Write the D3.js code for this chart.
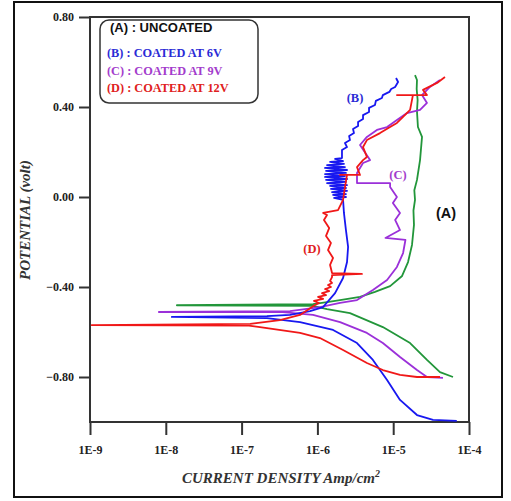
<!DOCTYPE html>
<html>
<head>
<meta charset="utf-8">
<script src="https://cdn.jsdelivr.net/npm/d3@7"></script>
<style>
  html, body { margin: 0; padding: 0; background: #fff; }
</style>
</head>
<body>
<div id="chart"></div>
<script>
// [current density (A/cm2), potential (V)]
const uncoated = [
  [6.15e-5, -0.800], [4.14e-5, -0.778], [2.79e-5, -0.724], [1.67e-5, -0.649],
  [7.3e-6, -0.578], [2.69e-6, -0.516], [1.34e-6, -0.498], [8.75e-7, -0.484],
  [1.4e-8, -0.481], [8.75e-7, -0.476], [1.34e-6, -0.467], [1.99e-6, -0.458],
  [3.65e-6, -0.444], [5.75e-6, -0.422], [9.1e-6, -0.396], [1.31e-5, -0.351],
  [1.57e-5, -0.289], [1.77e-5, -0.213], [1.88e-5, -0.124], [1.85e-5, -0.060],
  [1.94e-5, -0.013], [1.90e-5, 0.030], [2.06e-5, 0.076], [2.26e-5, 0.164],
  [2.40e-5, 0.267], [2.12e-5, 0.311], [2.06e-5, 0.380], [2.10e-5, 0.431],
  [2.04e-5, 0.480], [2.06e-5, 0.520], [1.94e-5, 0.542]
];
const coated6V = [
  [6.9e-5, -0.995], [3.35e-5, -0.991], [2.06e-5, -0.969], [1.23e-5, -0.902],
  [8.3e-6, -0.813], [5.4e-6, -0.724], [3.33e-6, -0.649], [1.61e-6, -0.591],
  [5.9e-7, -0.556], [2.16e-7, -0.538], [1.2e-8, -0.533], [2.16e-7, -0.529],
  [4.35e-7, -0.524], [8.0e-7, -0.507], [1.19e-6, -0.489], [1.71e-6, -0.427],
  [2.18e-6, -0.360], [2.46e-6, -0.289], [2.54e-6, -0.222], [2.38e-6, -0.147],
  [2.24e-6, -0.071], [2.18e-6, -0.013],
  [1.66e-6, -0.004], [2.38e-6, 0.000], [1.61e-6, 0.009], [2.38e-6, 0.013],
  [1.56e-6, 0.022], [2.46e-6, 0.027], [1.51e-6, 0.036], [2.38e-6, 0.040],
  [1.47e-6, 0.049], [2.46e-6, 0.053], [1.34e-6, 0.062], [2.38e-6, 0.067],
  [1.30e-6, 0.076], [2.46e-6, 0.080], [1.26e-6, 0.089], [2.31e-6, 0.093],
  [1.26e-6, 0.102], [2.38e-6, 0.107], [1.30e-6, 0.116], [2.46e-6, 0.120],
  [1.26e-6, 0.129], [2.31e-6, 0.133], [1.34e-6, 0.142], [2.24e-6, 0.147],
  [1.47e-6, 0.156], [2.18e-6, 0.160], [1.71e-6, 0.169], [2.11e-6, 0.173],
  [2.11e-6, 0.209], [2.46e-6, 0.222], [2.31e-6, 0.240], [2.69e-6, 0.253],
  [2.62e-6, 0.271], [3.04e-6, 0.284], [2.95e-6, 0.302], [3.44e-6, 0.316],
  [3.44e-6, 0.333], [4.0e-6, 0.347], [4.0e-6, 0.364], [4.8e-6, 0.378],
  [4.8e-6, 0.396], [5.75e-6, 0.409], [5.9e-6, 0.427], [7.1e-6, 0.440],
  [7.3e-6, 0.453], [8.9e-6, 0.467], [9.4e-6, 0.480], [1.06e-5, 0.489],
  [1.16e-5, 0.511], [1.09e-5, 0.529]
];
const coated9V = [
  [4.54e-5, -0.804], [2.79e-5, -0.800], [2.06e-5, -0.769], [1.23e-5, -0.711],
  [7.3e-6, -0.649], [4.5e-6, -0.604], [1.99e-6, -0.556], [8.75e-7, -0.524],
  [3.2e-7, -0.511], [8.1e-9, -0.511], [4.35e-7, -0.507], [1.08e-6, -0.489],
  [1.99e-6, -0.471], [3.33e-6, -0.458], [5.4e-6, -0.413], [8.3e-6, -0.369],
  [1.12e-5, -0.311], [1.35e-5, -0.249], [1.45e-5, -0.191], [7.9e-6, -0.182],
  [1.23e-5, -0.147], [1.06e-5, -0.102], [1.23e-5, -0.071], [9.9e-6, -0.027],
  [1.12e-5, 0.000], [9.1e-6, 0.044], [9.1e-6, 0.062], [3.33e-6, 0.062],
  [3.33e-6, 0.107], [4.0e-6, 0.151], [4.95e-6, 0.164], [3.65e-6, 0.231],
  [4.5e-6, 0.267], [6.1e-6, 0.298], [8.3e-6, 0.311], [1.12e-5, 0.342],
  [1.52e-5, 0.373], [2.26e-5, 0.387], [2.79e-5, 0.418], [2.40e-5, 0.453],
  [3.05e-5, 0.489], [4.14e-5, 0.520]
];
const coated12V = [
  [4.14e-5, -0.800], [2.06e-5, -0.800], [1.23e-5, -0.791], [7.3e-6, -0.769],
  [4.5e-6, -0.738], [2.18e-6, -0.680], [1.08e-6, -0.627], [5.9e-7, -0.604],
  [1.75e-7, -0.578], [1.18e-7, -0.571], [1.05e-9, -0.569], [1.3e-7, -0.564],
  [3.2e-7, -0.547], [5.9e-7, -0.524], [9.3e-7, -0.480], [1.05e-6, -0.471],
  [9.0e-7, -0.462], [1.19e-6, -0.453], [1.02e-6, -0.444], [1.30e-6, -0.436],
  [1.15e-6, -0.427], [1.43e-6, -0.418], [1.26e-6, -0.409], [1.51e-6, -0.400],
  [1.38e-6, -0.391], [1.56e-6, -0.382], [1.47e-6, -0.373], [1.56e-6, -0.356],
  [1.56e-6, -0.347], [3.87e-6, -0.342], [1.56e-6, -0.338],
  [1.47e-6, -0.302], [1.61e-6, -0.271], [1.38e-6, -0.236], [1.51e-6, -0.204],
  [1.30e-6, -0.173], [1.43e-6, -0.138], [1.22e-6, -0.102], [1.34e-6, -0.080],
  [1.19e-6, -0.071], [1.87e-6, -0.058], [2.18e-6, -0.013], [2.31e-6, 0.044],
  [2.46e-6, 0.098], [1.99e-6, 0.098], [3.65e-6, 0.098], [3.33e-6, 0.133],
  [4.0e-6, 0.164], [4.5e-6, 0.178], [4.0e-6, 0.222], [4.5e-6, 0.253],
  [6.7e-6, 0.284], [9.1e-6, 0.311], [1.12e-5, 0.329], [1.35e-5, 0.356],
  [1.67e-5, 0.387], [1.82e-5, 0.453], [1.12e-5, 0.453], [2.79e-5, 0.453],
  [2.47e-5, 0.476], [3.79e-5, 0.507], [4.82e-5, 0.533]
];

const xTicks = [1e-9, 1e-8, 1e-7, 1e-6, 1e-5, 1e-4];
const xTickLabels = ['1E-9', '1E-8', '1E-7', '1E-6', '1E-5', '1E-4'];
const yTicks = [0.8, 0.4, 0.0, -0.4, -0.8];
const legendLabels = ['(B) : COATED AT 6V', '(C) : COATED AT 9V', '(D) : COATED AT 12V'];

const W = 511, H = 501;
const m = { left: 90, right: 42, top: 17, bottom: 79 };
const serif = '"Liberation Serif", "Times New Roman", serif';
const sans = '"Liberation Sans", Arial, sans-serif';

const svg = d3.select('#chart').append('svg')
  .attr('width', W).attr('height', H)
  .attr('font-family', serif);

// outer picture frame
svg.append('rect')
  .attr('x', 14).attr('y', 2).attr('width', 488).attr('height', 495)
  .attr('fill', 'none').attr('stroke', '#111').attr('stroke-width', 2);

const x = d3.scaleLog().domain([1e-9, 1e-4]).range([m.left, W - m.right]);
const y = d3.scaleLinear().domain([-1.0, 0.8]).range([H - m.bottom, m.top]);

const xAxis = svg.append('g')
  .attr('transform', `translate(0,${H - m.bottom})`)
  .call(d3.axisBottom(x).tickValues(xTicks).tickSize(13).tickPadding(10)
    .tickFormat((d, i) => xTickLabels[i]));
const yAxis = svg.append('g')
  .attr('transform', `translate(${m.left},0)`)
  .call(d3.axisLeft(y).tickValues(yTicks).tickSize(11).tickPadding(5)
    .tickFormat(d3.format('.2f')));

[xAxis, yAxis].forEach(a => {
  a.attr('font-family', serif).attr('font-size', 12);
  a.select('.domain').remove();
  a.selectAll('line').attr('stroke', '#333').attr('stroke-width', 2);
  a.selectAll('text')
    .attr('font-weight', 'bold')
    .attr('fill', '#222');
});

// plot frame
svg.append('rect')
  .attr('x', m.left).attr('y', m.top)
  .attr('width', W - m.left - m.right).attr('height', H - m.top - m.bottom)
  .attr('fill', 'none').attr('stroke', '#333').attr('stroke-width', 2);

const line = d3.line().x(d => x(d[0])).y(d => y(d[1]));

const series = [
  { data: uncoated, color: '#22963a' },
  { data: coated9V, color: '#9b30d9' },
  { data: coated6V, color: '#1818f0' },
  { data: coated12V, color: '#f01818' }
];
series.forEach(s => {
  svg.append('path')
    .attr('d', line(s.data))
    .attr('fill', 'none')
    .attr('stroke', s.color)
    .attr('stroke-width', 1.8)
    .attr('stroke-linejoin', 'round');
});

// legend box
svg.append('rect')
  .attr('x', 100).attr('y', 20).attr('width', 158).attr('height', 83)
  .attr('rx', 9).attr('fill', '#fff').attr('stroke', '#333').attr('stroke-width', 1.5);
svg.append('text')
  .attr('x', 110).attr('y', 32)
  .attr('font-family', sans)
  .attr('font-weight', 'bold').attr('font-size', 13).attr('fill', '#111')
  .text('(A) : UNCOATED');
const legendColors = ['#2b2bd6', '#a33ccc', '#e02020'];
legendLabels.forEach((t, i) => {
  svg.append('text')
    .attr('x', 107).attr('y', 57 + i * 17.5)
    .attr('font-weight', 'bold').attr('font-size', 12.3)
    .attr('fill', legendColors[i])
    .text(t);
});

// curve labels
const curveLabels = [
  { t: '(B)', x: 355, y: 102, c: '#2b2bd6', f: serif, s: 12.5 },
  { t: '(C)', x: 398, y: 179, c: '#a33ccc', f: serif, s: 12.5 },
  { t: '(D)', x: 312, y: 253, c: '#e02020', f: serif, s: 12.5 },
  { t: '(A)', x: 446, y: 218, c: '#111', f: sans, s: 14.5 }
];
curveLabels.forEach(l => {
  svg.append('text')
    .attr('x', l.x).attr('y', l.y)
    .attr('text-anchor', 'middle')
    .attr('font-family', l.f)
    .attr('font-weight', 'bold')
    .attr('font-size', l.s)
    .attr('fill', l.c)
    .text(l.t);
});

// axis titles
const xt = svg.append('text')
  .attr('x', 281).attr('y', 483)
  .attr('text-anchor', 'middle')
  .attr('font-style', 'italic').attr('font-weight', 'bold')
  .attr('font-size', 15).attr('fill', '#333');
xt.append('tspan').text('CURRENT DENSITY Amp/cm');
xt.append('tspan').attr('dy', -6).attr('font-size', 10).text('2');

svg.append('text')
  .attr('transform', 'translate(30,220) rotate(-90)')
  .attr('text-anchor', 'middle')
  .attr('font-style', 'italic').attr('font-weight', 'bold')
  .attr('font-size', 15).attr('fill', '#333')
  .text('POTENTIAL (volt)');
</script>
</body>
</html>
